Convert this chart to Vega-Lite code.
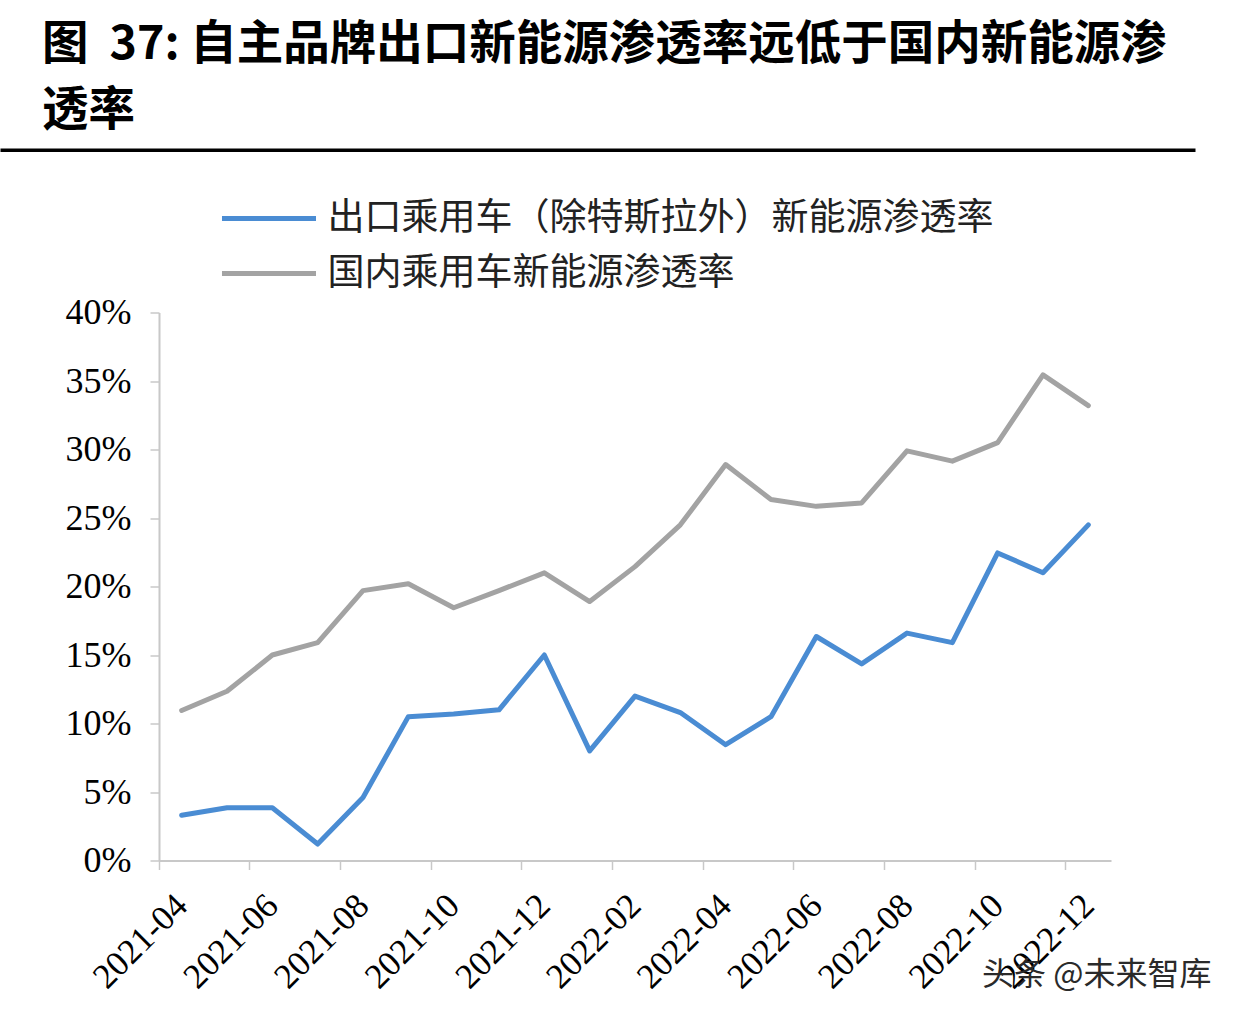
{
  "$schema": "https://vega.github.io/schema/vega-lite/v6.json",
  "autosize": {"type": "pad"},
  "padding": {"left": 0, "top": 20, "right": 0, "bottom": 0},
  "background": "white",
  "config": {"view": {"stroke": null}},
  "title": {"text": "头条 @未来智库", "orient": "bottom", "anchor": "end", "frame": "bounds", "fontSize": 32, "font": "Noto Sans CJK SC", "fontWeight": "normal", "color": "#2a2a2a", "offset": -35, "dx": 16},
  "spacing": 42.5,
  "resolve": {"legend": {"color": "independent"}},
  "vconcat": [
    {
      "width": 1192,
      "height": 0.5,
      "view": {"stroke": "#000000", "strokeWidth": 3},
      "title": {"text": ["图\u00a0\u00a037: 自主品牌出口新能源渗透率远低于国内新能源渗", "透率"], "anchor": "start", "frame": "bounds", "fontSize": 46.5, "fontWeight": "bold", "font": "Noto Sans CJK SC", "color": "#000000", "lineHeight": 66, "offset": 10, "dx": 40},
      "data": {"values": [{"t": ""}]},
      "mark": {"type": "text"},
      "encoding": {"text": {"field": "t"}}
    },
    {
      "spacing": 36,
      "resolve": {"legend": {"color": "independent"}},
      "hconcat": [
        {
          "width": 1,
          "height": 1,
          "data": {"values": [{"t": ""}]},
          "mark": {"type": "text"},
          "encoding": {"text": {"field": "t"}}
        },
        {
          "width": 952,
          "height": 548,
          "data": {"values": [
            {"month": "2021-04", "series": "出口乘用车（除特斯拉外）新能源渗透率", "v": 3.3},
            {"month": "2021-05", "series": "出口乘用车（除特斯拉外）新能源渗透率", "v": 3.85},
            {"month": "2021-06", "series": "出口乘用车（除特斯拉外）新能源渗透率", "v": 3.85},
            {"month": "2021-07", "series": "出口乘用车（除特斯拉外）新能源渗透率", "v": 1.2},
            {"month": "2021-08", "series": "出口乘用车（除特斯拉外）新能源渗透率", "v": 4.6},
            {"month": "2021-09", "series": "出口乘用车（除特斯拉外）新能源渗透率", "v": 10.5},
            {"month": "2021-10", "series": "出口乘用车（除特斯拉外）新能源渗透率", "v": 10.7},
            {"month": "2021-11", "series": "出口乘用车（除特斯拉外）新能源渗透率", "v": 11.0},
            {"month": "2021-12", "series": "出口乘用车（除特斯拉外）新能源渗透率", "v": 15.0},
            {"month": "2022-01", "series": "出口乘用车（除特斯拉外）新能源渗透率", "v": 8.0},
            {"month": "2022-02", "series": "出口乘用车（除特斯拉外）新能源渗透率", "v": 12.0},
            {"month": "2022-03", "series": "出口乘用车（除特斯拉外）新能源渗透率", "v": 10.8},
            {"month": "2022-04", "series": "出口乘用车（除特斯拉外）新能源渗透率", "v": 8.45},
            {"month": "2022-05", "series": "出口乘用车（除特斯拉外）新能源渗透率", "v": 10.5},
            {"month": "2022-06", "series": "出口乘用车（除特斯拉外）新能源渗透率", "v": 16.35},
            {"month": "2022-07", "series": "出口乘用车（除特斯拉外）新能源渗透率", "v": 14.35},
            {"month": "2022-08", "series": "出口乘用车（除特斯拉外）新能源渗透率", "v": 16.6},
            {"month": "2022-09", "series": "出口乘用车（除特斯拉外）新能源渗透率", "v": 15.9},
            {"month": "2022-10", "series": "出口乘用车（除特斯拉外）新能源渗透率", "v": 22.45},
            {"month": "2022-11", "series": "出口乘用车（除特斯拉外）新能源渗透率", "v": 21.0},
            {"month": "2022-12", "series": "出口乘用车（除特斯拉外）新能源渗透率", "v": 24.5},
            {"month": "2021-04", "series": "国内乘用车新能源渗透率", "v": 10.95},
            {"month": "2021-05", "series": "国内乘用车新能源渗透率", "v": 12.35},
            {"month": "2021-06", "series": "国内乘用车新能源渗透率", "v": 15.0},
            {"month": "2021-07", "series": "国内乘用车新能源渗透率", "v": 15.9},
            {"month": "2021-08", "series": "国内乘用车新能源渗透率", "v": 19.7},
            {"month": "2021-09", "series": "国内乘用车新能源渗透率", "v": 20.2},
            {"month": "2021-10", "series": "国内乘用车新能源渗透率", "v": 18.45},
            {"month": "2021-11", "series": "国内乘用车新能源渗透率", "v": 19.7},
            {"month": "2021-12", "series": "国内乘用车新能源渗透率", "v": 21.0},
            {"month": "2022-01", "series": "国内乘用车新能源渗透率", "v": 18.9},
            {"month": "2022-02", "series": "国内乘用车新能源渗透率", "v": 21.45},
            {"month": "2022-03", "series": "国内乘用车新能源渗透率", "v": 24.5},
            {"month": "2022-04", "series": "国内乘用车新能源渗透率", "v": 28.9},
            {"month": "2022-05", "series": "国内乘用车新能源渗透率", "v": 26.35},
            {"month": "2022-06", "series": "国内乘用车新能源渗透率", "v": 25.85},
            {"month": "2022-07", "series": "国内乘用车新能源渗透率", "v": 26.1},
            {"month": "2022-08", "series": "国内乘用车新能源渗透率", "v": 29.9},
            {"month": "2022-09", "series": "国内乘用车新能源渗透率", "v": 29.15},
            {"month": "2022-10", "series": "国内乘用车新能源渗透率", "v": 30.5},
            {"month": "2022-11", "series": "国内乘用车新能源渗透率", "v": 35.45},
            {"month": "2022-12", "series": "国内乘用车新能源渗透率", "v": 33.2}
          ]},
          "mark": {"type": "line", "strokeWidth": 5, "strokeCap": "round", "strokeJoin": "round"},
          "encoding": {
            "x": {
              "field": "month", "type": "ordinal", "sort": null, "bandPosition": 0.5,
              "scale": {"type": "band", "paddingInner": 0, "paddingOuter": 0},
              "axis": {
                "title": null, "grid": false,
                "values": ["2021-04", "2021-06", "2021-08", "2021-10", "2021-12", "2022-02", "2022-04", "2022-06", "2022-08", "2022-10", "2022-12"],
                "bandPosition": 0,
                "labelAngle": -45, "labelAlign": "right", "labelBaseline": "middle",
                "labelFont": "Liberation Serif", "labelFontSize": 35, "labelColor": "#000000",
                "labelOverlap": false, "labelPadding": 30, "labelDx": 14, "labelDy": 14,
                "tickSize": 9, "tickColor": "#c8c8c8", "tickWidth": 1.5,
                "domainColor": "#c8c8c8", "domainWidth": 2
              }
            },
            "y": {
              "field": "v", "type": "quantitative",
              "scale": {"domain": [0, 40], "nice": false, "zero": true},
              "axis": {
                "title": null, "grid": false,
                "values": [0, 5, 10, 15, 20, 25, 30, 35, 40],
                "labelExpr": "datum.value + '%'",
                "labelFont": "Liberation Serif", "labelFontSize": 36, "labelColor": "#000000",
                "labelPadding": 19,
                "tickSize": 9, "tickColor": "#c8c8c8", "tickWidth": 1.5,
                "domainColor": "#c8c8c8", "domainWidth": 2,
                "minExtent": 120
              }
            },
            "color": {
              "field": "series", "type": "nominal",
              "scale": {"domain": ["出口乘用车（除特斯拉外）新能源渗透率", "国内乘用车新能源渗透率"], "range": ["#4a8cd3", "#a3a3a3"]},
              "legend": {
                "orient": "none", "legendX": 91.5, "legendY": -112.5,
                "title": null, "padding": 0,
                "symbolType": "M-3,0H3", "symbolSize": 982, "symbolStrokeWidth": 5,
                "symbolFillColor": "transparent",
                "labelFont": "Noto Sans CJK SC", "labelFontSize": 37, "labelColor": "#222222",
                "labelOffset": 40, "rowPadding": 17, "labelLimit": 0
              }
            }
          }
        }
      ]
    }
  ]
}
